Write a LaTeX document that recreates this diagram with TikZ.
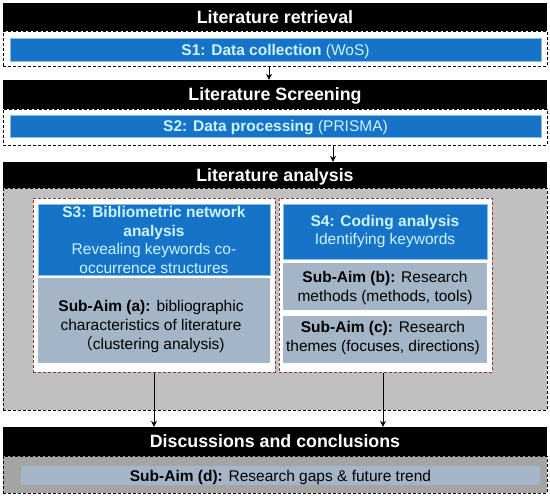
\documentclass[tikz,border=0pt]{standalone}
\usepackage{fontspec}
\setmainfont{Liberation Sans}
\newfontfamily\cjkfont{Noto Sans CJK SC}
\usetikzlibrary{arrows.meta}
\definecolor{bluebox}{RGB}{22,115,200}
\definecolor{cyantext}{RGB}{205,245,255}
\definecolor{areagray}{RGB}{192,192,192}
\definecolor{lowgray}{RGB}{164,164,164}
\definecolor{aimgray}{RGB}{163,181,198}
\definecolor{framered}{RGB}{140,60,60}
\tikzset{
  header/.style={fill=black, text=white, font=\fontsize{17.8}{20}\selectfont\bfseries,
    minimum width=544pt, inner sep=0pt, text height=12.7pt, text depth=0pt},
  frame/.style={draw=black, fill=white, line width=1pt, dash pattern=on 3pt off 2pt,
    inner sep=0pt},
  redframe/.style={draw=framered, fill=white, line width=1pt, dash pattern=on 3pt off 2pt,
    inner sep=0pt},
  bluebar/.style={fill=bluebox, draw=cyantext!60!bluebox, line width=0.6pt, text=cyantext,
    font=\fontsize{15.5}{18.5}\selectfont, inner sep=0pt},
  aimbox/.style={fill=aimgray, inner sep=0pt, text=black,
    font=\fontsize{15.5}{19}\selectfont},
  bluetext/.style={text=cyantext, align=center, inner sep=0pt,
    font=\fontsize{15.5}{18.5}\selectfont},
  aimtext/.style={text=black, align=center, inner sep=0pt,
    font=\fontsize{15.5}{19}\selectfont},
  arr/.style={draw=black, line width=0.9pt, -{Stealth[length=6pt,width=6pt]}}
}
\begin{document}
\begin{tikzpicture}[x=1pt,y=-1pt]
\useasboundingbox (0,0) rectangle (550,496);
% Block 1
\node[frame, minimum width=544pt, minimum height=35pt] (f1) at (275,48.5) {};
\node[header, minimum height=28pt] (h1) at (275,17) {Literature retrieval};
\node[bluebar, minimum width=531pt, minimum height=23pt, text height=11pt, text depth=0pt] (s1) at (275.5,49.5) {\textbf{S1: Data collection} (WoS)};
% Block 2
\node[frame, minimum width=544pt, minimum height=36pt] (f2) at (275,127) {};
\node[header, minimum height=29pt] (h2) at (275,94.5) {Literature Screening};
\node[bluebar, minimum width=531pt, minimum height=22pt, text height=11pt, text depth=0pt] (s2) at (275.5,126) {\textbf{S2: Data processing} (PRISMA)};
% Block 3
\node[frame, fill=areagray, minimum width=544pt, minimum height=222pt] (f3) at (275,299) {};
\node[header, minimum height=26pt] (h3) at (275,175) {Literature analysis};
\node[redframe, minimum width=242pt, minimum height=174pt] (L) at (154,285) {};
\node[redframe, minimum width=213pt, minimum height=174pt] (R) at (385.5,285) {};
\node[bluebar, minimum width=232pt, minimum height=71pt] (s3) at (154,239.5) {};
\node[bluetext] (s3t) at (154,240) {\textbf{S3: Bibliometric network}\\\textbf{analysis}\\Revealing keywords co-\\occurrence structures};
\node[aimbox, minimum width=232pt, minimum height=85pt] (a) at (154,320.5) {};
\node[aimtext] (at) at (151,326) {\textbf{Sub-Aim (a):}\hspace{6pt}bibliographic\\characteristics of literature\\{\cjkfont （}clustering analysis)};
\node[bluebar, minimum width=204pt, minimum height=55pt] (s4) at (385,231.5) {};
\node[bluetext] (s4t) at (385,231.5) {\textbf{S4: Coding analysis}\\Identifying keywords};
\node[aimbox, minimum width=204pt, minimum height=47pt] (b) at (385,286.5) {};
\node[aimtext] (bt) at (385,287.5) {\textbf{Sub-Aim (b):} Research\\methods (methods, tools)};
\node[aimbox, minimum width=204pt, minimum height=47pt] (c) at (385,339.5) {};
\node[aimtext] (ct) at (383,338) {\textbf{Sub-Aim (c):} Research\\themes (focuses, directions)};
% Block 4
\node[frame, fill=lowgray, minimum width=544pt, minimum height=37pt] (f4) at (275,474.5) {};
\node[header, minimum height=29pt] (h4) at (275,441.5) {Discussions and conclusions};
\node[aimbox, minimum width=519pt, minimum height=19pt, text height=11pt, text depth=0pt] (d) at (280.5,475.5) {\textbf{Sub-Aim (d):} Research gaps \& future trend};
% Connectors
\coordinate (x1) at (269,0);
\coordinate (x2) at (333,0);
\coordinate (x4) at (383,0);
\draw[arr] (f1.south -| x1) -- (h2.north -| x1);
\draw[arr] (f2.south -| x2) -- (h3.north -| x2);
\draw[arr] (L.south) -- (h4.north -| L.south);
\draw[arr] (R.south -| x4) -- (h4.north -| x4);
\end{tikzpicture}
\end{document}
